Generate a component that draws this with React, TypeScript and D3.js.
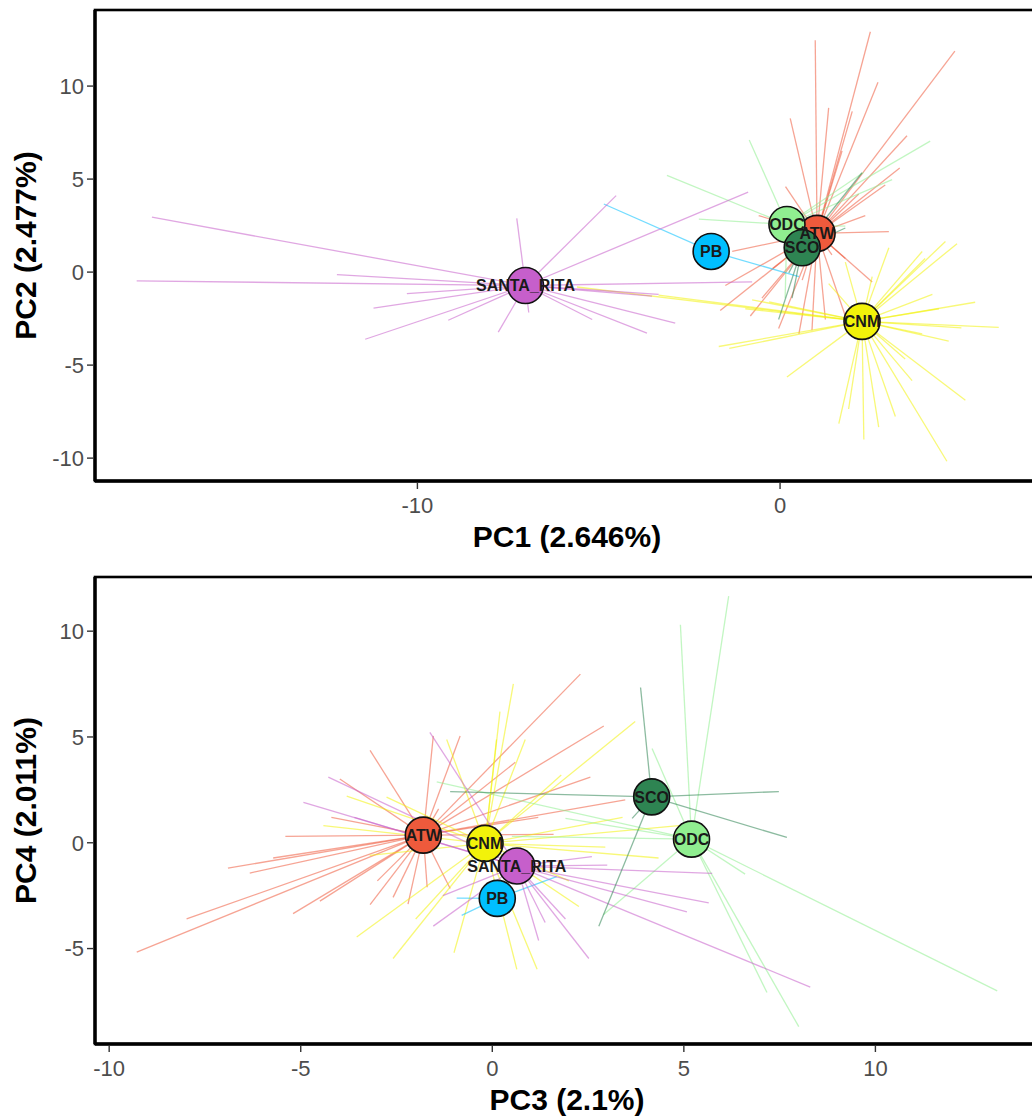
import * as d3 from 'd3'

// groups, in drawing order
const groups = ['ATW', 'CNM', 'ODC', 'PB', 'SANTA_RITA', 'SCO']
const fills = ['#EE5A3C', '#F2F20A', '#90EE90', '#00BFFF', '#C65FCB', '#2E8452']

// PC1 / PC2 centroids
const cent12 = [
	[1.02, 2.08],
	[2.26, -2.65],
	[0.19, 2.56],
	[-1.9, 1.11],
	[-7.02, -0.72],
	[0.61, 1.31],
]

// PC1 / PC2 individuals
const atw12 = [
	[2.49, 12.92], [0.97, 12.46], [4.82, 11.88], [1.99, 8.64], [0.28, 8.26], [3.5, 7.33],
	[1.71, 6.52], [2.9, 4.68], [3.0, 2.18], [2.54, -0.53], [0.52, -3.32], [-0.04, -3.03],
	[-0.82, -2.36], [-1.65, -2.07], [-1.51, -0.72], [-1.32, 1.11], [-0.59, 3.04], [0.15, 4.59],
	[2.17, 4.2], [1.43, 0.92], [1.25, -2.55], [1.8, -2.36], [0.88, -3.13], [0.61, -0.43],
	[2.35, 3.04], [-0.5, -1.4], [1.8, 0.73], [1.34, 8.83], [0.52, 3.04], [3.3, 5.6],
	[2.7, 10.2], [-0.2, 0.2],
]
const cnm12 = [
	[4.88, 1.53], [4.56, 1.65], [4.0, 0.73], [5.38, -1.62], [6.03, -2.97], [3.92, -3.32],
	[5.11, -6.89], [4.6, -10.17], [2.31, -9.0], [1.89, -7.36], [0.19, -5.64], [-1.69, -4.0],
	[-0.77, -1.49], [-0.96, -1.97], [-3.35, -1.24], [-5.6, -0.8], [1.8, 0.54], [2.54, -0.24],
	[3.0, 1.31], [3.45, -4.67], [3.64, -5.83], [1.34, -0.62], [2.72, -8.33], [4.38, -1.97],
	[4.65, -3.71], [3.92, 1.11], [3.18, -7.76], [1.62, -8.15], [-1.4, -4.1], [-0.3, -1.6],
	[5.0, -3.0], [4.2, -1.2],
]
const odc12 = [
	[-0.85, 7.1], [-3.12, 5.2], [4.14, 7.04], [2.31, 5.37], [1.8, 2.47], [0.14, -1.4],
	[-2.24, 2.85], [3.09, 4.97],
]
const pb12 = [
	[-4.86, 3.66], [0.52, -0.24],
]
const sr12 = [
	[-17.32, 2.95], [-17.74, -0.47], [-12.22, -0.14], [-10.29, -1.16], [-11.21, -1.94],
	[-11.44, -3.61], [-9.15, -2.59], [-7.77, -3.23], [-7.26, 2.89], [-4.52, 4.11], [-0.88, 4.3],
	[-3.35, -1.2], [-2.89, -2.74], [-3.67, -3.28], [-0.77, -0.53], [-5.18, -2.55], [-6.93, -2.17],
	[-3.53, -1.29],
]
const sco12 = [
	[2.26, 5.34], [1.8, 2.37], [-0.04, -2.55], [0.24, -0.04], [0.33, -1.4],
]

// PC3 / PC4 centroids
const cent34 = [
	[-1.8, 0.36],
	[-0.19, -0.03],
	[5.2, 0.17],
	[0.13, -2.63],
	[0.64, -1.1],
	[4.16, 2.17],
]

// PC3 / PC4 individuals
const atw34 = [
	[-9.28, -5.17], [-7.98, -3.6], [-6.33, -1.43], [-5.2, -3.35], [-4.5, -2.76], [-3.19, 4.37],
	[-0.84, 5.05], [-2.59, -2.58], [-1.1, -2.16], [-3.19, -2.92], [-3.98, 3.01], [-1.54, 5.05],
	[-5.72, -0.72], [2.3, 7.97], [2.91, 5.52], [2.56, 3.1], [3.47, 2.03], [-6.9, -1.2],
	[-2.2, -2.9], [-1.4, 1.6], [1.2, 1.2], [-4.2, 1.2], [-3.0, -1.8], [0.6, 3.8],
	[-5.4, 0.3], [1.6, 0.4], [-1.7, -2.1],
]
const cnm34 = [
	[0.55, 7.51], [-3.54, -4.45], [-2.59, -5.47], [-4.41, 0.81], [-2.76, 2.16], [-1.19, 4.88],
	[0.11, 4.88], [0.64, -5.98], [3.73, 5.73], [4.34, -0.72], [2.26, -3.01], [1.17, -5.98],
	[4.87, 0.81], [2.95, -0.21], [0.86, 4.88], [-3.8, 2.2], [-2.0, -3.6], [1.8, 3.2],
	[-1.0, -5.2], [3.4, 1.2], [-3.2, -0.6], [0.2, 6.2], [2.0, -1.8],
]
const odc34 = [
	[6.17, 11.66], [4.91, 10.3], [4.17, 4.46], [13.18, -7.0], [8.0, -8.69], [7.17, -7.08],
	[6.6, -1.48], [-1.45, 2.88], [0.51, 0.3], [1.91, 1.15], [2.9, -3.4],
]
const pb34 = [
	[-0.93, -2.62], [-0.8, -3.43], [1.68, -1.6],
]
const sr34 = [
	[-1.63, 5.22], [-4.93, 1.91], [-4.28, 3.1], [-1.54, -3.94], [-1.29, -2.5], [8.3, -6.82],
	[5.65, -2.84], [5.08, -3.27], [2.52, -5.47], [1.21, -4.62], [5.74, -1.45], [3.0, -1.06],
	[1.91, -3.6], [1.38, -3.77], [2.6, -0.65], [-3.6, 1.2],
]
const sco34 = [
	[3.87, 7.34], [7.48, 2.42], [7.69, 0.25], [2.78, -3.94], [-1.1, 2.42], [3.65, 1.15],
]

const ticks12x = [-10, 0]
const ticks12y = [-10, -5, 0, 5, 10]
const ticks34x = [-10, -5, 0, 5, 10]
const ticks34y = [-5, 0, 5, 10]

const panels = [
	{
		id: 'p1',
		top: 10,
		bottom: 481,
		xDomain: [-18.89, 7.14],
		yDomain: [-11.23, 14.09],
		cents: cent12,
		pts: [atw12, cnm12, odc12, pb12, sr12, sco12],
		xTicks: ticks12x,
		yTicks: ticks12y,
		xTitle: 'PC1 (2.646%)',
		yTitle: 'PC2 (2.477%)',
	},
	{
		id: 'p2',
		top: 577,
		bottom: 1044,
		xDomain: [-10.37, 14.27],
		yDomain: [-9.51, 12.56],
		cents: cent34,
		pts: [atw34, cnm34, odc34, pb34, sr34, sco34],
		xTicks: ticks34x,
		yTicks: ticks34y,
		xTitle: 'PC3 (2.1%)',
		yTitle: 'PC4 (2.011%)',
	},
]

const left = 95
const right = 1039
const font = "'Liberation Sans', Arial, sans-serif"

const Panel = ({ p }: { p: any }) => {
	const x = d3.scaleLinear().domain(p.xDomain).range([left, right])
	const y = d3.scaleLinear().domain(p.yDomain).range([p.bottom, p.top])
	const line = d3.line<number[]>().x((d) => x(d[0])).y((d) => y(d[1]))
	const midY = (p.top + p.bottom) / 2
	return (
		<g>
			<defs>
				<clipPath id={'clip' + p.id}>
					<rect x={left} y={p.top} width={right - left} height={p.bottom - p.top} />
				</clipPath>
			</defs>
			<g clipPath={`url(#clip${p.id})`}>
				{p.pts.map((arr: number[][], gi: number) =>
					arr.map((d, i) => (
						<path
							key={gi + '-' + i}
							d={line([p.cents[gi], d]) || ''}
							stroke={fills[gi]}
							strokeOpacity={0.55}
							strokeWidth={1.3}
							fill="none"
						/>
					))
				)}
				{p.cents.map((c: number[], gi: number) => (
					<circle key={gi} cx={x(c[0])} cy={y(c[1])} r={18} fill={fills[gi]} stroke="#111" strokeWidth={1.6} />
				))}
				{p.cents.map((c: number[], gi: number) => (
					<text
						key={gi}
						x={x(c[0])}
						y={y(c[1])}
						dy="0.36em"
						textAnchor="middle"
						fontFamily={font}
						fontWeight="bold"
						fontSize={16}
						fill="#1a1a1a"
					>
						{groups[gi]}
					</text>
				))}
			</g>
			<rect x={left} y={p.top} width={right - left} height={p.bottom - p.top} fill="none" stroke="#000" strokeWidth={2.6} />
			<line x1={left} x2={right} y1={p.bottom} y2={p.bottom} stroke="#000" strokeWidth={3.6} />
			<line x1={left} x2={left} y1={p.top} y2={p.bottom} stroke="#000" strokeWidth={3.4} />
			{p.xTicks.map((t: number) => (
				<g key={t}>
					<line x1={x(t)} x2={x(t)} y1={p.bottom + 2} y2={p.bottom + 8} stroke="#333" strokeWidth={1.4} />
					<text x={x(t)} y={p.bottom + 32} textAnchor="middle" fontFamily={font} fontSize={22} fill="#4D4D4D">
						{t < 0 ? '-' + Math.abs(t) : t}
					</text>
				</g>
			))}
			{p.yTicks.map((t: number) => (
				<g key={t}>
					<line x1={left - 8} x2={left - 2} y1={y(t)} y2={y(t)} stroke="#333" strokeWidth={1.4} />
					<text x={left - 11} y={y(t)} dy="0.36em" textAnchor="end" fontFamily={font} fontSize={22} fill="#4D4D4D">
						{t < 0 ? '-' + Math.abs(t) : t}
					</text>
				</g>
			))}
			<text x={567} y={p.bottom + 66} textAnchor="middle" fontFamily={font} fontWeight="bold" fontSize={30} fill="#000">
				{p.xTitle}
			</text>
			<text
				transform={`translate(36,${midY}) rotate(-90)`}
				textAnchor="middle"
				fontFamily={font}
				fontWeight="bold"
				fontSize={30}
				fill="#000"
			>
				{p.yTitle}
			</text>
		</g>
	)
}

const App = () => {
	return (
		<svg
			width={1032}
			height={1120}
			viewBox="0 0 1032 1120"
			style={{ position: 'absolute', left: 0, top: 0, background: '#fff' }}
		>
			<rect width={1032} height={1120} fill="#fff" />
			{panels.map((p) => (
				<Panel key={p.id} p={p} />
			))}
		</svg>
	)
}

export default App
